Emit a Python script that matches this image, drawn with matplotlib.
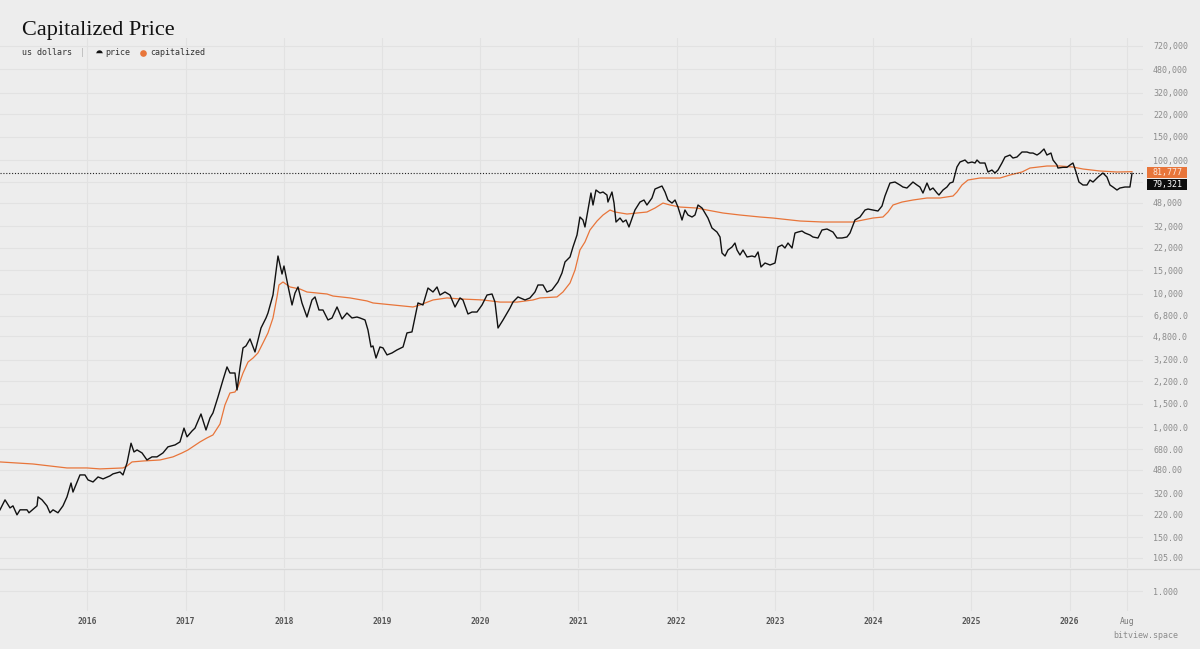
import matplotlib
matplotlib.use("Agg")
import matplotlib.pyplot as plt
from matplotlib.lines import Line2D
from matplotlib.patches import Rectangle
from matplotlib.ticker import FixedLocator, FixedFormatter, NullLocator

# ---------------- data (decimal year, US dollars) ----------------
price_t = [
    2015.111, 2015.162, 2015.213, 2015.243, 2015.284, 2015.315, 2015.386, 2015.406, 2015.488, 2015.498,
    2015.539, 2015.589, 2015.620, 2015.651, 2015.701, 2015.752, 2015.793, 2015.834, 2015.854, 2015.925,
    2015.976, 2016.007, 2016.058, 2016.109, 2016.160, 2016.231, 2016.261, 2016.333, 2016.363, 2016.404,
    2016.445, 2016.475, 2016.506, 2016.557, 2016.607, 2016.658, 2016.709, 2016.770, 2016.821, 2016.893,
    2016.943, 2016.984, 2017.015, 2017.066, 2017.096, 2017.157, 2017.208, 2017.249, 2017.279, 2017.330,
    2017.381, 2017.422, 2017.452, 2017.503, 2017.524, 2017.554, 2017.585, 2017.615, 2017.656, 2017.707,
    2017.768, 2017.819, 2017.839, 2017.890, 2017.941, 2017.982, 2018.002, 2018.043, 2018.084, 2018.114,
    2018.145, 2018.185, 2018.236, 2018.287, 2018.318, 2018.358, 2018.399, 2018.450, 2018.491, 2018.542,
    2018.593, 2018.643, 2018.694, 2018.745, 2018.776, 2018.827, 2018.857, 2018.888, 2018.908, 2018.939,
    2018.979, 2019.010, 2019.051, 2019.102, 2019.152, 2019.214, 2019.254, 2019.305, 2019.336, 2019.366,
    2019.417, 2019.468, 2019.519, 2019.560, 2019.590, 2019.641, 2019.692, 2019.743, 2019.794, 2019.824,
    2019.875, 2019.916, 2019.967, 2020.018, 2020.069, 2020.120, 2020.150, 2020.181, 2020.232, 2020.303,
    2020.333, 2020.384, 2020.456, 2020.506, 2020.557, 2020.588, 2020.639, 2020.679, 2020.730, 2020.791,
    2020.832, 2020.863, 2020.914, 2020.944, 2020.985, 2021.015, 2021.046, 2021.066, 2021.097, 2021.127,
    2021.148, 2021.178, 2021.219, 2021.250, 2021.290, 2021.300, 2021.341, 2021.362, 2021.382, 2021.423,
    2021.453, 2021.484, 2021.514, 2021.575, 2021.626, 2021.667, 2021.697, 2021.748, 2021.779, 2021.850,
    2021.881, 2021.911, 2021.952, 2021.983, 2022.013, 2022.054, 2022.084, 2022.115, 2022.156, 2022.186,
    2022.217, 2022.258, 2022.288, 2022.318, 2022.359, 2022.410, 2022.441, 2022.461, 2022.492, 2022.522,
    2022.563, 2022.593, 2022.614, 2022.644, 2022.675, 2022.716, 2022.767, 2022.797, 2022.828, 2022.858,
    2022.899, 2022.950, 2023.001, 2023.031, 2023.072, 2023.102, 2023.133, 2023.174, 2023.204, 2023.235,
    2023.275, 2023.306, 2023.357, 2023.387, 2023.438, 2023.479, 2023.530, 2023.591, 2023.632, 2023.683,
    2023.733, 2023.764, 2023.815, 2023.866, 2023.917, 2023.947, 2023.998, 2024.049, 2024.090, 2024.120,
    2024.151, 2024.171, 2024.222, 2024.273, 2024.303, 2024.344, 2024.374, 2024.405, 2024.446, 2024.476,
    2024.507, 2024.527, 2024.548, 2024.578, 2024.609, 2024.650, 2024.670, 2024.711, 2024.751, 2024.782,
    2024.813, 2024.853, 2024.884, 2024.935, 2024.965, 2025.006, 2025.037, 2025.057, 2025.087, 2025.138,
    2025.169, 2025.209, 2025.240, 2025.271, 2025.311, 2025.342, 2025.393, 2025.423, 2025.464, 2025.515,
    2025.566, 2025.596, 2025.627, 2025.668, 2025.698, 2025.739, 2025.769, 2025.810, 2025.831, 2025.871,
    2025.881, 2025.932, 2025.973, 2026.004, 2026.034, 2026.065, 2026.095, 2026.136, 2026.177, 2026.207,
    2026.238, 2026.289, 2026.339, 2026.380, 2026.411, 2026.441, 2026.482, 2026.512, 2026.563, 2026.614, 2026.635,
]
price_v = [
    240, 285, 248, 257, 220, 240, 240, 228, 257, 300,
    285, 257, 228, 240, 228, 257, 300, 381, 326, 438,
    438, 402, 388, 423, 409, 431, 446, 461, 438, 538,
    757, 651, 674, 640, 567, 598, 598, 640, 711, 735,
    774, 982, 845, 935, 982, 1253, 951, 1170, 1276, 1680,
    2253, 2820, 2540, 2540, 1896, 2770, 3915, 4050, 4570, 3650,
    5520, 6560, 7150, 9750, 19100, 14000, 16080, 11390, 8209, 10080,
    11200, 8500, 6670, 8950, 9430, 7530, 7530, 6340, 6560, 7930,
    6450, 7150, 6560, 6670, 6560, 6340, 5330, 3980, 4050, 3290,
    3980, 3915, 3470, 3590, 3780, 3980, 5070, 5160, 6670, 8500,
    8210, 11000, 10270, 11200, 9750, 10270, 9750, 7930, 9270, 8950,
    7030, 7270, 7270, 8210, 9750, 9920, 8630, 5520, 6340, 7790,
    8630, 9430, 8950, 9270, 10270, 11590, 11590, 10270, 10630, 12200,
    14250, 17240, 18800, 22310, 27440, 37430, 35540, 31510, 42220, 56610,
    46030, 59610, 56610, 57600, 54690, 48440, 57600, 47600, 34330, 36770,
    34330, 35540, 31510, 42220, 48440, 50170, 46030, 51940, 60650, 63860,
    57600, 50170, 47600, 50170, 44440, 35540, 42220, 38740, 37430, 38740,
    46030, 43690, 40100, 36770, 30960, 28880, 26510, 20130, 19100, 21190,
    22310, 23900, 21190, 19440, 21190, 18790, 19100, 18790, 20480, 15800,
    16930, 16360, 16930, 22310, 23090, 21930, 23900, 21930, 28400, 28880,
    29390, 28400, 27440, 26510, 26060, 29910, 30430, 28880, 26060, 26060,
    26510, 28400, 35540, 37430, 42220, 42950, 42220, 41500, 45240, 53740,
    61700, 67250, 68420, 64980, 62780, 61700, 64980, 68420, 64980, 62780,
    56610, 61700, 67250, 59610, 61700, 56610, 54690, 59610, 62780, 67250,
    68420, 88650, 96610, 100000, 94960, 96610, 94960, 100000, 94960, 94960,
    81330, 84160, 79930, 84160, 94960, 105300, 109000, 103500, 105300, 114800,
    114800, 112800, 112800, 109000, 112800, 120900, 109000, 112800, 100000, 91740,
    87110, 88150, 88150, 91740, 94960, 81330, 68420, 64980, 64980, 70830,
    68420, 74560, 79930, 74560, 64980, 62780, 59610, 61700, 62780, 62780, 79321,
]

cap_t = [
    2015.111, 2015.447, 2015.793, 2015.997, 2016.129, 2016.363, 2016.404, 2016.455, 2016.567, 2016.740,
    2016.872, 2016.964, 2017.025, 2017.147, 2017.218, 2017.279, 2017.351, 2017.401, 2017.452, 2017.503,
    2017.534, 2017.585, 2017.636, 2017.687, 2017.737, 2017.788, 2017.839, 2017.890, 2017.931, 2017.951,
    2017.992, 2018.063, 2018.165, 2018.236, 2018.440, 2018.501, 2018.674, 2018.847, 2018.908, 2019.112,
    2019.315, 2019.387, 2019.519, 2019.661, 2019.794, 2020.028, 2020.201, 2020.374, 2020.537, 2020.608,
    2020.781, 2020.842, 2020.914, 2020.965, 2020.985, 2021.015, 2021.066, 2021.117, 2021.189, 2021.250,
    2021.321, 2021.372, 2021.494, 2021.596, 2021.697, 2021.779, 2021.860, 2021.932, 2022.033, 2022.206,
    2022.308, 2022.471, 2022.644, 2022.848, 2022.980, 2023.255, 2023.489, 2023.662, 2023.795, 2023.896,
    2023.998, 2024.100, 2024.151, 2024.202, 2024.293, 2024.405, 2024.548, 2024.680, 2024.813, 2024.853,
    2024.904, 2024.965, 2025.087, 2025.291, 2025.393, 2025.515, 2025.596, 2025.769, 2025.902, 2026.034,
    2026.136, 2026.309, 2026.482, 2026.635,
]
cap_v = [
    548, 529, 494, 494, 486, 494, 511, 548, 557, 567,
    598, 640, 674, 774, 829, 873, 1055, 1464, 1800, 1830,
    2000, 2540, 3070, 3290, 3590, 4260, 5070, 6560, 9430, 11590,
    12200, 11200, 10810, 10270, 9920, 9580, 9270, 8800, 8500, 8210,
    7930, 8210, 8950, 9270, 9110, 8950, 8630, 8630, 8950, 9270,
    9430, 10270, 12000, 15010, 17240, 21190, 24330, 29910, 34930, 38740,
    42220, 40790, 39400, 40100, 40790, 43690, 47600, 46030, 44440, 43690,
    42220, 40100, 38740, 37430, 36770, 34930, 34330, 34330, 34330, 35540,
    36770, 37430, 40790, 46030, 48440, 50170, 51940, 51940, 53750, 57590,
    64980, 70830, 73310, 73310, 77210, 81330, 87110, 90180, 90180, 88630,
    85630, 82740, 81330, 81777,
]

ytick_values = [720000, 480000, 320000, 220000, 150000, 100000, 68000, 48000, 32000, 22000,
                15000, 10000, 6800, 4800, 3200, 2200, 1500, 1000, 680, 480, 320, 220, 150, 105]
ytick_labels = ["720,000", "480,000", "320,000", "220,000", "150,000", "100,000", "68,000",
                "48,000", "32,000", "22,000", "15,000", "10,000", "6,800.0", "4,800.0",
                "3,200.0", "2,200.0", "1,500.0", "1,000.0", "680.00", "480.00", "320.00",
                "220.00", "150.00", "105.00"]
xtick_pos = [2016, 2017, 2018, 2019, 2020, 2021, 2022, 2023, 2024, 2025, 2026, 2026.581]
xtick_labels = ["2016", "2017", "2018", "2019", "2020", "2021", "2022", "2023", "2024",
                "2025", "2026", "Aug"]

# ---------------- style ----------------
W, H, DPI = 1200, 649, 100
BG = "#ededed"
GRID = "#e2e2e2"
ORANGE = "#e8753a"
BLACK = "#111111"
MONO = "DejaVu Sans Mono"
plt.rcParams["font.family"] = [MONO]

fig = plt.figure(figsize=(W / DPI, H / DPI), dpi=DPI, facecolor=BG)


def fx(px):
    return px / W


def fy(py):
    return 1 - py / H


ax = fig.add_axes([0, fy(568), fx(1143), (568 - 38) / H])
ax2 = fig.add_axes([0, fy(611), fx(1143), (611 - 569) / H])

for a in (ax, ax2):
    a.set_facecolor(BG)
    for s in a.spines.values():
        s.set_visible(False)
    a.set_xlim(2015.111, 2026.747)
    a.xaxis.set_major_locator(FixedLocator(xtick_pos))
    a.xaxis.set_minor_locator(NullLocator())
    a.grid(True, color=GRID, lw=0.8)
    a.set_axisbelow(True)
    a.tick_params(length=0)
    a.yaxis.tick_right()

# main pane
ax.set_yscale("log")
ax.set_ylim(88, 820000)
ax.yaxis.set_major_locator(FixedLocator(ytick_values))
ax.yaxis.set_major_formatter(FixedFormatter(ytick_labels))
ax.yaxis.set_minor_locator(NullLocator())
ax.tick_params(axis="y", labelsize=6, labelcolor="#8c8c8c", pad=7.2)
ax.tick_params(axis="x", labelbottom=False)

ax.plot(cap_t, cap_v, color=ORANGE, lw=0.9, zorder=3, solid_joinstyle="round")
ax.plot(price_t, price_v, color=BLACK, lw=1.0, zorder=4, solid_joinstyle="round")
ax.axhline(price_v[-1], color="#222222", lw=0.8, ls=(0, (1, 1.6)), zorder=5)

# lower pane
ax2.set_ylim(0, 2.15)
ax2.yaxis.set_major_locator(FixedLocator([1]))
ax2.yaxis.set_major_formatter(FixedFormatter(["1.000"]))
ax2.tick_params(axis="y", labelsize=6, labelcolor="#8c8c8c", pad=7.2)
ax2.set_xticks(xtick_pos, labels=xtick_labels)
ax2.tick_params(axis="x", labelsize=5.8, pad=4.5)
for lab, txt in zip(ax2.get_xticklabels(), xtick_labels):
    if txt == "Aug":
        lab.set_color("#7a7a7a")
    else:
        lab.set_color("#555555")
        lab.set_fontweight("bold")

# pane separator
fig.add_artist(Line2D([0, 1], [fy(568.5), fy(568.5)], transform=fig.transFigure,
                      color="#d9d9d9", lw=0.9))

# last-value labels
fig.add_artist(Rectangle((fx(1147), fy(177.5)), fx(40), 10.5 / H, transform=fig.transFigure,
                         fc=ORANGE, ec="none", zorder=10))
fig.text(fx(1152.5), fy(172.3), f"{cap_v[-1]:,}", color="#fbe9df", fontsize=6,
         va="center", ha="left", zorder=11)
fig.add_artist(Rectangle((fx(1147), fy(189.5)), fx(40), 10.5 / H, transform=fig.transFigure,
                         fc="#0d0d0d", ec="none", zorder=10))
fig.text(fx(1152.5), fy(184.3), f"{price_v[-1]:,}", color="#ffffff", fontsize=6,
         va="center", ha="left", zorder=11)

# title and legend
fig.text(fx(22), fy(35), "Capitalized Price", family="Liberation Serif", fontsize=16,
         color="#111111", va="baseline", ha="left")
fig.text(fx(22), fy(52.5), "us dollars", fontsize=6, color="#333333", va="center", ha="left")
fig.text(fx(82), fy(52.5), "|", fontsize=6, color="#b5b5b5", va="center", ha="center")
fig.add_artist(Line2D([fx(99)], [fy(52.5)], transform=fig.transFigure, marker="o", ms=4.6,
                      fillstyle="top", markerfacecolor=BLACK, markerfacecoloralt=BG,
                      markeredgewidth=0, linestyle="none"))
fig.text(fx(105), fy(52.5), "price", fontsize=6, color="#333333", va="center", ha="left")
fig.add_artist(Line2D([fx(143)], [fy(53)], transform=fig.transFigure, marker="o", ms=4.8,
                      color=ORANGE, markeredgewidth=0, linestyle="none"))
fig.text(fx(150), fy(52.5), "capitalized", fontsize=6, color="#333333", va="center", ha="left")

fig.text(fx(1178), fy(636), "bitview.space", fontsize=6, color="#8c8c8c", va="center", ha="right")

fig.savefig("out.png", dpi=DPI, facecolor=BG)
